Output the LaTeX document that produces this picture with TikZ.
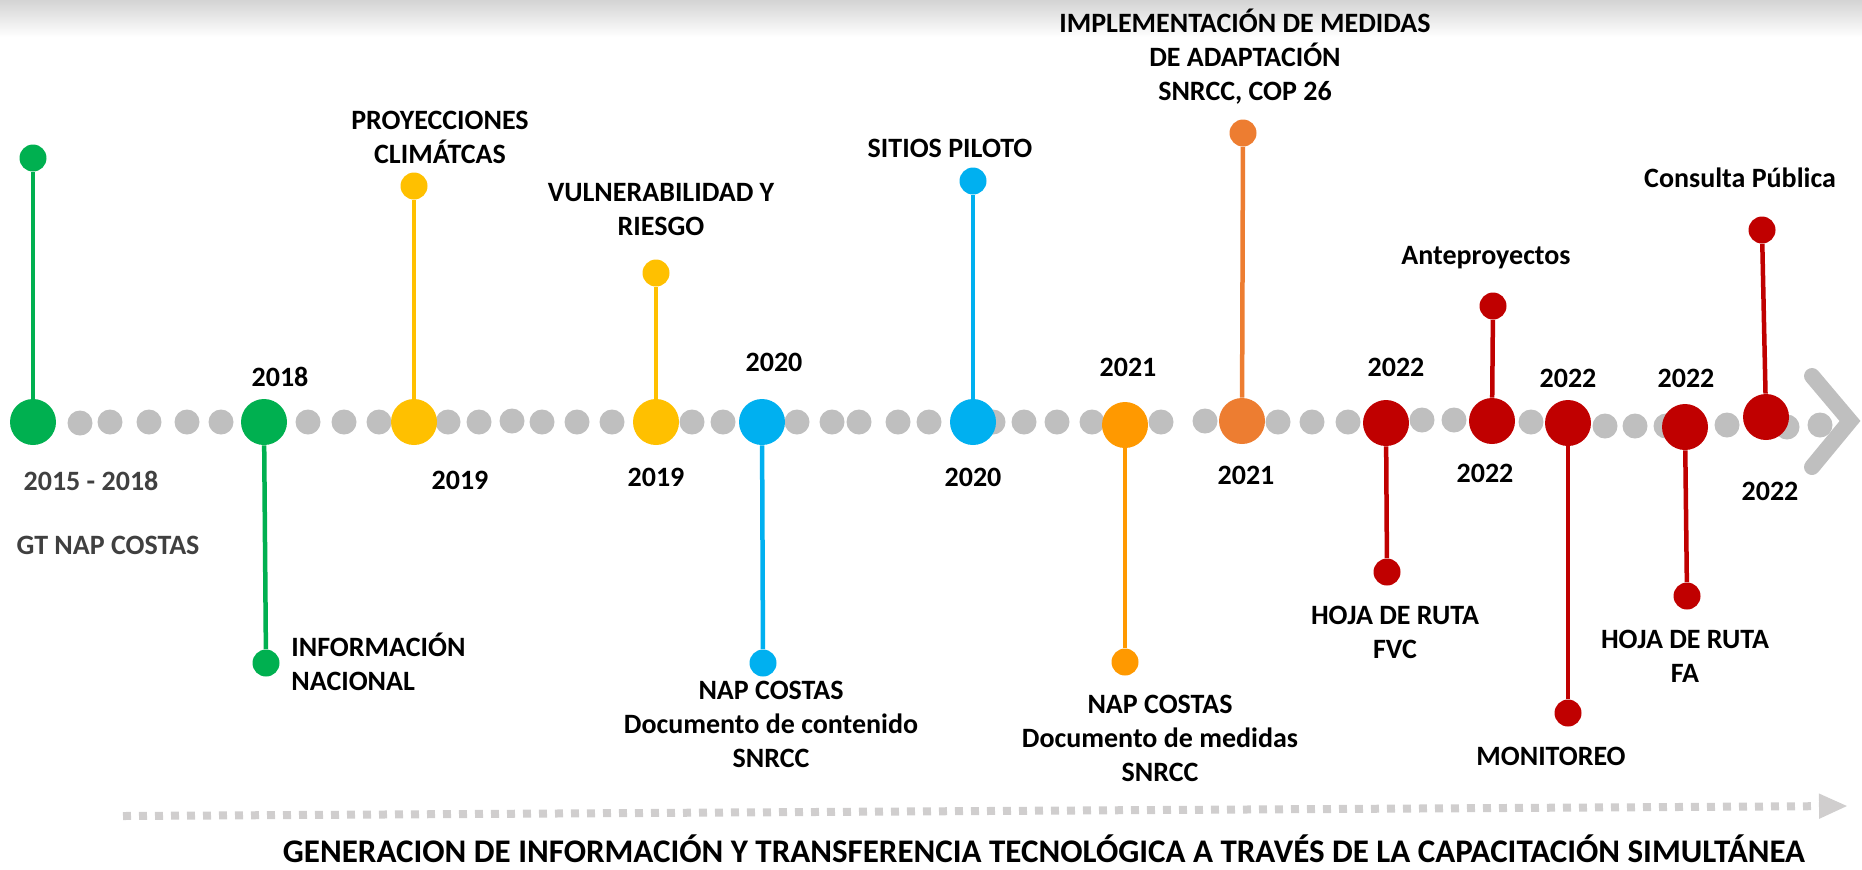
\documentclass[tikz,border=0pt]{standalone}
\usepackage{fontspec}
\setmainfont{Carlito}
\usetikzlibrary{arrows.meta}
\definecolor{verde}{HTML}{00B050}
\definecolor{amarillo}{HTML}{FFC000}
\definecolor{celeste}{HTML}{00B0F0}
\definecolor{naranja}{HTML}{FF9900}
\definecolor{naranjo}{HTML}{ED7D31}
\definecolor{rojo}{HTML}{C00000}
\definecolor{gris}{HTML}{BFBFBF}
\definecolor{grisclaro}{HTML}{D0CECE}
\definecolor{texto}{HTML}{404040}
\tikzset{
  bigdot/.style={circle, fill=#1, minimum size=23pt, inner sep=0pt},
  enddot/.style={circle, fill=#1, minimum size=13.5pt, inner sep=0pt},
  graydot/.style={circle, fill=gris, minimum size=12.5pt, inner sep=0pt},
  stem/.style={draw=#1, line width=2.25pt},
  etiqueta/.style={align=center, inner sep=0pt}
}
\begin{document}
\begin{tikzpicture}[x=.5pt, y=-.5pt, font=\bfseries\fontsize{14}{17}\selectfont]
\useasboundingbox (0,0) rectangle (1862,869);
\shade[top color=black!17, bottom color=white] (0,0) rectangle (1862,37);
\foreach \x/\y [count=\i] in {80/423,110/422,149/422,187/422,221/422,308/422,344/422,379/422,
    448/422,479/422,512/421,542/422,577/422,612/422,692/422,723/422,797/422,832/422,859/422,
    898/422,929/422,993/422,1024/422,1057/422,1092/422,1161/422,1205/421,1278/422,1312/422,
    1348/422,1422/420,1454/420,1531/422,1605/426,1635/426,1666/426,1727/425,1787/427,1820/425}
{
    \node[graydot] (g\i) at (\x,\y) {};
}
\draw[gris, line width=8pt, line cap=round] (1812,376) -- (1850,421) -- (1812,467);
\foreach \n/\x/\y/\tx/\ty/\c in {e1/33/422/33/158/verde, e2/264/422/266/663/verde,
    e3/414/422/414/186/amarillo, e4/656/422/656/273/amarillo,
    e5/762/422/763/663/celeste, e6/973/422/973/181/celeste,
    e7/1125/425/1125/662/naranja, e8/1242/421/1243/133/naranjo,
    e9/1386/423/1387/572/rojo, e10/1492/421/1493/306/rojo, e11/1568/423/1568/713/rojo,
    e12/1685/427/1687/596/rojo, e13/1766/417/1762/230/rojo}
{
    \node[bigdot=\c] (\n) at (\x,\y) {};
    \node[enddot=\c] (\n-t) at (\tx,\ty) {};
    \draw[stem=\c] (\n) -- (\n-t);
}
\node[etiqueta, texto] (a1) at (91,481) {2015 - 2018};
\node[etiqueta, texto] (a2) at (108,545) {GT NAP COSTAS};
\node[etiqueta] (b1) at (280,377) {2018};
\node[etiqueta, align=left, anchor=west] (b2) at (291,662) {INFORMACIÓN\\NACIONAL};
\node[etiqueta] (c1) at (440,137) {PROYECCIONES\\CLIMÁTCAS};
\node[etiqueta] (c2) at (460,480) {2019};
\node[etiqueta] (d1) at (661,210) {VULNERABILIDAD Y\\RIESGO};
\node[etiqueta] (d2) at (656,477) {2019};
\node[etiqueta] (f1) at (774,362) {2020};
\node[etiqueta] (f2) at (771,724) {NAP COSTAS\\Documento de contenido\\SNRCC};
\node[etiqueta] (h1) at (950,148) {SITIOS PILOTO};
\node[etiqueta] (h2) at (973,477) {2020};
\node[etiqueta] (k1) at (1128,367) {2021};
\node[etiqueta] (k2) at (1160,738) {NAP COSTAS\\Documento de medidas\\SNRCC};
\node[etiqueta] (m1) at (1245,57) {IMPLEMENTACIÓN DE MEDIDAS\\DE ADAPTACIÓN\\SNRCC, COP 26};
\node[etiqueta] (m2) at (1246,475) {2021};
\node[etiqueta] (n1) at (1396,367) {2022};
\node[etiqueta] (n2) at (1395,632) {HOJA DE RUTA\\FVC};
\node[etiqueta] (p1) at (1486,258) {Anteproyectos};
\node[etiqueta] (p2) at (1485,473) {2022};
\node[etiqueta] (q1) at (1568,378) {2022};
\node[etiqueta] (q2) at (1551,756) {MONITOREO};
\node[etiqueta] (r1) at (1686,378) {2022};
\node[etiqueta] (r2) at (1685,656) {HOJA DE RUTA\\FA};
\node[etiqueta] (s1) at (1740,178) {Consulta Pública};
\node[etiqueta] (s2) at (1770,491) {2022};
\coordinate (flecha-a) at (123,816);
\coordinate (flecha-b) at (1848,806);
\draw[grisclaro, line width=4pt, dash pattern=on 4pt off 4pt, -{Triangle[length=14.5pt, width=11.5pt]}] (flecha-a) -- (flecha-b);
\node[etiqueta, anchor=base, font=\bfseries\fontsize{16.5}{19}\selectfont] (lema) at (1044,862) {GENERACION DE INFORMACIÓN Y TRANSFERENCIA TECNOLÓGICA A TRAVÉS DE LA CAPACITACIÓN SIMULTÁNEA};
\end{tikzpicture}
\end{document}
